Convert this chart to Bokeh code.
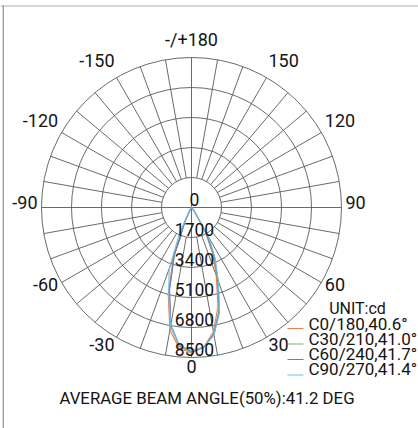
import numpy as np
from bokeh.plotting import figure
from bokeh.models import Range1d
from bokeh.core.properties import value
from bokeh.embed import file_html
from bokeh.resources import INLINE

# ---------------- data ----------------
gamma = [0, 5, 10, 15, 20, 25, 30, 35, 40, 45, 50, 55, 60, 65, 70, 75, 80, 85, 90]
c0 = [8250, 7950, 7150, 5800, 4100, 2800, 1500, 300, 60, 20, 10, 0, 0, 0, 0, 0, 0, 0, 0]
c180 = [8250, 8000, 7050, 5100, 3000, 850, 150, 40, 0, 0, 0, 0, 0, 0, 0, 0, 0, 0, 0]
c30 = [8200, 7950, 7250, 6000, 4300, 3000, 1650, 300, 50, 20, 10, 0, 0, 0, 0, 0, 0, 0, 0]
c210 = [8200, 7900, 6850, 4850, 2800, 800, 150, 40, 0, 0, 0, 0, 0, 0, 0, 0, 0, 0, 0]
c60 = [8150, 7950, 7300, 6100, 4400, 3050, 1700, 350, 60, 20, 10, 0, 0, 0, 0, 0, 0, 0, 0]
c240 = [8150, 7850, 6750, 4800, 2850, 900, 180, 40, 0, 0, 0, 0, 0, 0, 0, 0, 0, 0, 0]
c90 = [8100, 7950, 7350, 6150, 4450, 3150, 2000, 400, 70, 20, 10, 0, 0, 0, 0, 0, 0, 0, 0]
c270 = [8100, 7850, 6800, 5000, 3700, 1600, 350, 60, 0, 0, 0, 0, 0, 0, 0, 0, 0, 0, 0]

planes_right = [c0, c30, c60, c90]
planes_left = [c180, c210, c240, c270]
legend_labels = ["C0/180,40.6°", "C30/210,41.0°", "C60/240,41.7°", "C90/270,41.4°"]
colors = ["#f07a55", "#72c058", "#7474c4", "#6cc4dc"]

ring_ticks = [0, 1700, 3400, 5100, 6800, 8500]
ring_labels = ["0", "1700", "3400", "5100", "6800", "8500"]
angle_ticks = [0, 30, 60, 90, 120, 150, 180, -150, -120, -90, -60, -30]
angle_labels = ["0", "30", "60", "90", "120", "150", "-/+180", "-150", "-120", "-90", "-60", "-30"]
spoke_step = 10
unit_label = "UNIT:cd"
bottom_text = "AVERAGE BEAM ANGLE(50%):41.2 DEG"

# ---------------- layout ----------------
W, H = 418, 428
R_MAX = ring_ticks[-1]
K = R_MAX / 150.0          # cd per pixel
CX, CY = 191, 207          # centre in page pixels
FONT = value("Roboto")
INK = "#141414"


def px(X, Y):
    return (X - CX) * K, (CY - Y) * K


p = figure(width=W, height=H, output_backend="svg", toolbar_location=None,
           x_range=Range1d((0 - CX) * K, (W - CX) * K),
           y_range=Range1d((CY - H) * K, (CY - 0) * K),
           min_border=0)
p.axis.visible = False
p.grid.visible = False
p.outline_line_color = None
p.background_fill_color = "white"
p.border_fill_color = "white"

GRID = "#5a5a5a"
# rings
p.circle(x=[0] * (len(ring_ticks) - 1), y=[0] * (len(ring_ticks) - 1), radius=ring_ticks[1:],
         fill_color=None, line_color=GRID, line_width=0.9)
# spokes
deg = np.arange(0, 360, spoke_step)
sp = np.deg2rad(deg)
r0 = np.where(deg % 90 == 0, 0, ring_ticks[1])
p.segment(x0=r0 * np.sin(sp), y0=-r0 * np.cos(sp), x1=R_MAX * np.sin(sp), y1=-R_MAX * np.cos(sp),
          line_color=GRID, line_width=0.9)

# curves
g = np.array(gamma, dtype=float)
for right, left, col in zip(planes_right, planes_left, colors):
    th = np.deg2rad(np.concatenate([-g[::-1], g[1:]]))
    I = np.concatenate([np.array(left[::-1], float), np.array(right[1:], float)])
    p.line(I * np.sin(th), -I * np.cos(th), line_color=col, line_width=1.1)

# ring labels (centred a little above each ring on the downward axis)
p.text(x=[0] * len(ring_ticks), y=[-v + 8 * K for v in ring_ticks], text=ring_labels,
       x_offset=3, text_align="center", text_baseline="middle",
       text_font=FONT, text_font_size="17.5px", text_color=INK)

# angle labels
RH, RV, UP = 154 * K, 163.5 * K, 5 * K
groups = {"left": ([], [], []), "right": ([], [], []), "center": ([], [], [])}
for ang, lab in zip(angle_ticks, angle_labels):
    ar = np.deg2rad(ang)
    key = "center" if ang % 180 == 0 else ("left" if ang > 0 else "right")
    xs, ys, ts = groups[key]
    xs.append(RH * np.sin(ar))
    ys.append(-RV * np.cos(ar) + UP)
    ts.append(lab)
for align, (xs, ys, ts) in groups.items():
    p.text(x=xs, y=ys, text=ts, text_align=align, text_baseline="middle",
           text_font=FONT, text_font_size="18px", text_color=INK)

# legend
for i, (lab, col) in enumerate(zip(legend_labels, colors)):
    x0, y0 = px(287, 328 + 15.5 * i)
    x1, _ = px(303, 0)
    p.line([x0, x1], [y0, y0], line_color=col, line_width=1.2)
    tx, ty = px(308, 323 + 15 * i)
    p.text(x=[tx], y=[ty], text=[lab], text_align="left", text_baseline="middle",
           text_font=FONT, text_font_size="17px", text_color=INK)
ux, uy = px(357, 308)
p.text(x=[ux], y=[uy], text=[unit_label], text_align="center", text_baseline="middle",
       text_font=FONT, text_font_size="16px", text_color=INK)

bx, by = px(206.5, 397)
p.text(x=[bx], y=[by], text=[bottom_text], text_align="center", text_baseline="middle",
       text_font=FONT, text_font_size="16.8px", text_color=INK)

# page frame edges (top and left only)
tlx, tly = px(0, 5.5)
trx, _ = px(W, 5.5)
p.line([tlx, trx], [tly, tly], line_color="#d6d6d6", line_width=2)
lx, ly0 = px(2.7, 5)
_, ly1 = px(2.7, H)
p.line([lx, lx], [ly0, ly1], line_color="#7a7a7a", line_width=1)

open("out.html", "w").write(file_html(p, INLINE))
